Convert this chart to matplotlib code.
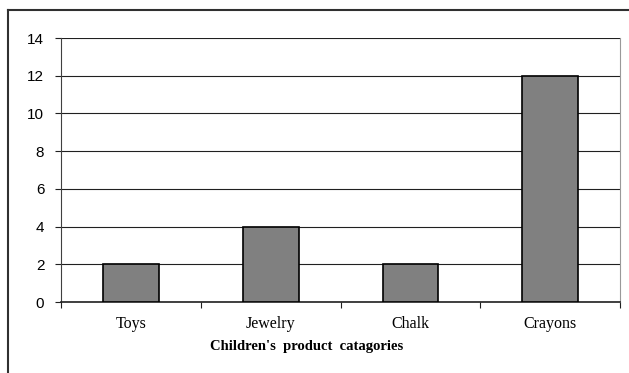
import matplotlib
matplotlib.use('Agg')
import matplotlib.pyplot as plt
from matplotlib.lines import Line2D
import numpy as np

categories = ['Toys', 'Jewelry', 'Chalk', 'Crayons']
counts = [2, 4, 2, 12]
y_ticks = [0, 2, 4, 6, 8, 10, 12, 14]
x_title = "Children's  product  catagories"

fig = plt.figure(figsize=(6.29, 3.73), dpi=100)
ax = fig.add_axes([0.097, 0.19, 0.889, 0.708])

x = np.arange(len(categories))
ax.bar(x, counts, width=0.4, color='#808080', edgecolor='black', linewidth=1.2, zorder=3)

ax.set_xlim(-0.5, len(categories) - 0.5)
ax.set_ylim(0, 14)
ax.set_yticks(y_ticks)
ax.set_yticklabels([str(v) for v in y_ticks], fontfamily='Liberation Sans', fontsize=11)
ax.yaxis.grid(True, color='#202020', linewidth=0.8, zorder=0)

# category labels centred, tick marks between categories
ax.set_xticks(x)
ax.set_xticklabels(categories, fontfamily='Liberation Serif', fontsize=11.5)
ax.tick_params(axis='x', length=0, pad=10)
ax.set_xticks(np.arange(-0.5, len(categories)), minor=True)
ax.tick_params(axis='x', which='minor', length=4, width=0.8, color='#202020')
ax.tick_params(axis='y', length=4, width=0.8, color='#202020', pad=8)

ax.set_xlabel(x_title, fontfamily='Liberation Serif', fontsize=10.5,
              fontweight='bold')
ax.xaxis.set_label_coords(0.44, -0.145)

ax.spines['top'].set_visible(False)
ax.spines['right'].set_color('#999999')
ax.spines['left'].set_color('#404040')
ax.spines['bottom'].set_color('#202020')
ax.spines['bottom'].set_linewidth(1.2)

# outer chart frame (left and top edges)
fig.add_artist(Line2D([8 / 629, 8 / 629], [0, 1 - 10 / 373], color='#303030', linewidth=1.5,
                      transform=fig.transFigure))
fig.add_artist(Line2D([8 / 629, 1], [1 - 10 / 373, 1 - 10 / 373], color='#303030', linewidth=1.5,
                      transform=fig.transFigure))

fig.savefig('out.png', dpi=100)
